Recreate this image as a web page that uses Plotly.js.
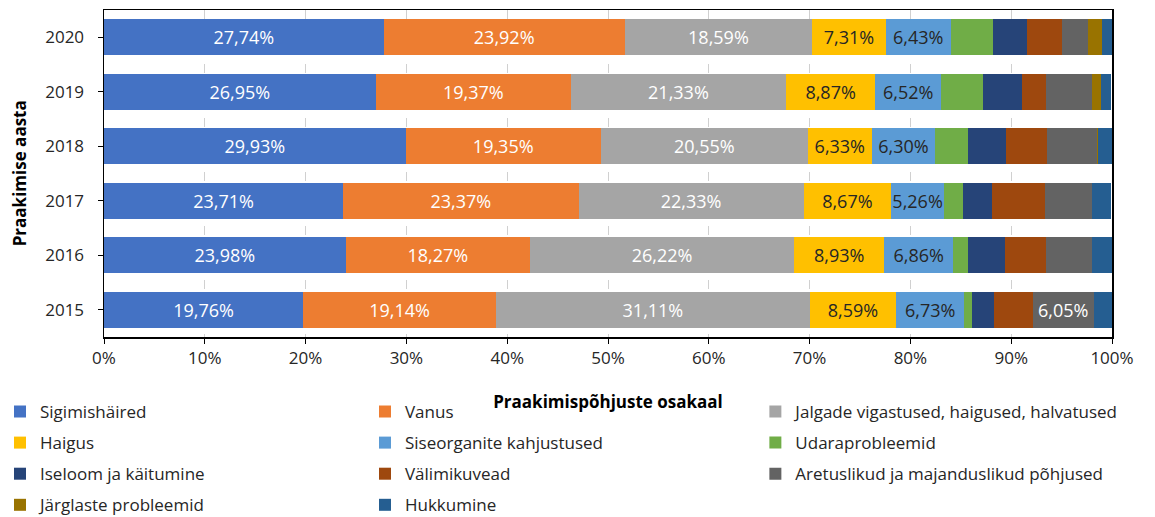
<!DOCTYPE html>
<html>
<head>
<meta charset="utf-8">
<script src="https://cdn.plot.ly/plotly-3.0.1.min.js"></script>
<style>html,body{margin:0;padding:0;background:#fff}#chart{width:1155px;height:517px}</style>
</head>
<body>
<div id="chart"></div>
<script>
const years = ['2015', '2016', '2017', '2018', '2019', '2020'];
const seriesNames = [
  'Sigimishäired', 'Vanus', 'Jalgade vigastused, haigused, halvatused',
  'Haigus', 'Siseorganite kahjustused', 'Udaraprobleemid',
  'Iseloom ja käitumine', 'Välimikuvead', 'Aretuslikud ja majanduslikud põhjused',
  'Järglaste probleemid', 'Hukkumine'
];
const sigimishaired = [19.76, 23.98, 23.71, 29.93, 26.95, 27.74];
const vanus = [19.14, 18.27, 23.37, 19.35, 19.37, 23.92];
const jalgade = [31.11, 26.22, 22.33, 20.55, 21.33, 18.59];
const haigus = [8.59, 8.93, 8.67, 6.33, 8.87, 7.31];
const siseorganite = [6.73, 6.86, 5.26, 6.30, 6.52, 6.43];
const udara = [0.8, 1.5, 1.9, 3.3, 4.2, 4.2];
const iseloom = [2.2, 3.6, 2.9, 3.7, 3.8, 3.4];
const valimik = [3.8, 4.1, 5.2, 4.1, 2.4, 3.4];
const aretus = [6.05, 4.6, 4.7, 5.0, 4.6, 2.6];
const jarglaste = [0, 0, 0, 0.1, 0.9, 1.4];
const hukkumine = [1.8, 1.9, 1.9, 1.3, 1.0, 1.0];
const xTickVals = [0, 10, 20, 30, 40, 50, 60, 70, 80, 90, 100];
const xTickText = ['0%', '10%', '20%', '30%', '40%', '50%', '60%', '70%', '80%', '90%', '100%'];
const xTitle = 'Praakimispõhjuste osakaal';
const yTitle = 'Praakimise aasta';
// which bars carry a printed label
const labelled = [
  [true, true, true, true, true, true],
  [true, true, true, true, true, true],
  [true, true, true, true, true, true],
  [true, true, true, true, true, true],
  [true, true, true, true, true, true],
  null, null, null,
  [true, false, false, false, false, false],
  null, null
];

const values = [sigimishaired, vanus, jalgade, haigus, siseorganite, udara, iseloom, valimik, aretus, jarglaste, hukkumine];
const colors = ['#4472C4', '#ED7D31', '#A5A5A5', '#FFC000', '#5B9BD5', '#70AD47', '#264478', '#9E480E', '#636363', '#997300', '#255E91'];
const labelColors = ['#ffffff', '#ffffff', '#ffffff', '#262626', '#262626', '#fff', '#fff', '#fff', '#ffffff', '#fff', '#fff'];
// legend column for each series (row-wise reading order across 3 columns)
const legendIds = ['legend', 'legend2', 'legend3', 'legend', 'legend2', 'legend3', 'legend', 'legend2', 'legend3', 'legend', 'legend2'];

const fmt = v => v.toFixed(2).replace('.', ',') + '%';

const traces = values.map((vals, i) => {
  const lab = labelled[i];
  return {
    type: 'bar',
    orientation: 'h',
    name: seriesNames[i],
    legend: legendIds[i],
    legendgroup: 'g' + i,
    y: years,
    x: vals,
    marker: { color: colors[i], line: { width: 0 } },
    text: vals.map((v, j) => (lab && lab[j]) ? fmt(v) : ''),
    textposition: lab ? 'inside' : 'none',
    insidetextanchor: 'middle',
    textangle: 0,
    constraintext: 'none',
    insidetextfont: { family: 'Open Sans, sans-serif', size: 18, color: labelColors[i] },
    hoverinfo: 'skip'
  };
});

const legendBase = {
  orientation: 'v',
  xref: 'container',
  yref: 'container',
  xanchor: 'left',
  y: 0.238,
  yanchor: 'top',
  traceorder: 'grouped',
  tracegroupgap: 6,
  font: { size: 17, color: '#262626' },
  itemwidth: 30,
  bgcolor: 'rgba(0,0,0,0)'
};

const layout = {
  width: 1155,
  height: 517,
  margin: { l: 104, r: 43, t: 10, b: 180, autoexpand: false },
  barmode: 'stack',
  bargap: 0.34,
  paper_bgcolor: '#ffffff',
  plot_bgcolor: '#ffffff',
  font: { family: 'Open Sans, sans-serif', color: '#262626', size: 17 },
  showlegend: true,
  xaxis: {
    range: [0, 100],
    tickvals: xTickVals,
    ticktext: xTickText,
    showgrid: true,
    gridcolor: '#d0d0d0',
    griddash: 'dash',
    gridwidth: 1,
    zeroline: false,
    showline: true,
    linecolor: '#000000',
    linewidth: 1.5,
    mirror: true,
    ticks: 'outside',
    ticklen: 5,
    tickcolor: '#000',
    tickfont: { size: 17, color: '#262626' },
    title: { text: xTitle, font: { size: 17, color: '#000', weight: 'bold' }, standoff: 28 },
    fixedrange: true,
    automargin: true
  },
  yaxis: {
    type: 'category',
    categoryorder: 'array',
    categoryarray: years,
    showline: true,
    linecolor: '#000000',
    linewidth: 1.5,
    mirror: true,
    ticks: 'outside',
    ticklen: 5,
    tickcolor: '#000',
    tickfont: { size: 17, color: '#262626' },
    ticklabelstandoff: 10,
    fixedrange: true,
    automargin: false
  },
  annotations: [{
    text: yTitle,
    xref: 'paper', yref: 'paper',
    x: -0.0835, y: 0.5,
    xanchor: 'center', yanchor: 'middle',
    textangle: -90,
    showarrow: false,
    font: { size: 17, color: '#000', weight: 'bold' }
  }],
  legend: Object.assign({}, legendBase, { x: 0.0 }),
  legend2: Object.assign({}, legendBase, { x: 0.316 }),
  legend3: Object.assign({}, legendBase, { x: 0.654 })
};

Plotly.newPlot('chart', traces, layout, { displayModeBar: false, staticPlot: true });
</script>
</body>
</html>
